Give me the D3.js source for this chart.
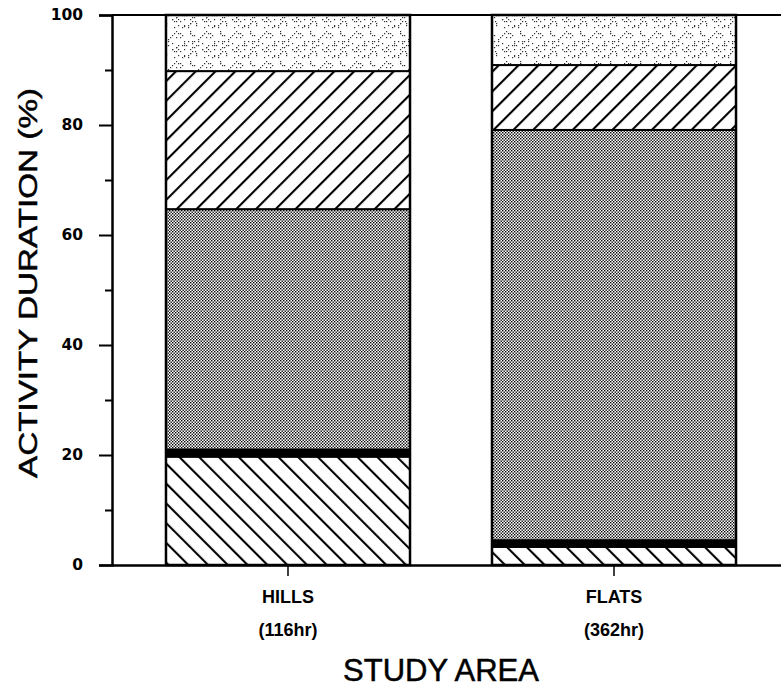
<!DOCTYPE html>
<html>
<head>
<meta charset="utf-8">
<script src="https://cdn.jsdelivr.net/npm/d3@7"></script>
<style>
  body { margin: 0; background: #fff; }
  svg { display: block; overflow: hidden; }
  text { font-family: "Liberation Sans", Arial, sans-serif; fill: #000; }
</style>
</head>
<body>
<div class="chart"></div>
<script>
var categories = ['HILLS', 'FLATS'];
var hours = ['(116hr)', '(362hr)'];

// stacked from the bottom up, % of activity time
var hatchBack = [19.7, 3.3];
var solidBand = [1.3, 1.2];
var denseDots = [43.7, 74.6];
var hatchFwd = [25.1, 11.8];
var lightDots = [10.2, 9.1];

var yTicks = [0, 20, 40, 60, 80, 100];
var yMinorTicks = [10, 30, 50, 70, 90];

var seriesKeys = ['hatchBack', 'solidBand', 'denseDots', 'hatchFwd', 'lightDots'];
var seriesValues = [hatchBack, solidBand, denseDots, hatchFwd, lightDots];
var seriesFill = ['url(#hatch-back)', '#000', 'url(#dense)', 'url(#hatch-fwd)', 'url(#light)'];

var table = categories.map(function(c, i) {
  var row = { name: c };
  seriesKeys.forEach(function(k, j) { row[k] = seriesValues[j][i]; });
  return row;
});

var margin = { top: 15, right: 0, bottom: 125, left: 112 };
var fullWidth = 781;
var fullHeight = 690;
var width = 678;
var height = fullHeight - margin.top - margin.bottom;

var root = d3.select('.chart')
  .append('svg')
  .attr('width', fullWidth)
  .attr('height', fullHeight);

var defs = root.append('defs');

// diagonal hatches
[['hatch-fwd', 45], ['hatch-back', -45]].forEach(function(p) {
  var pat = defs.append('pattern')
    .attr('id', p[0])
    .attr('patternUnits', 'userSpaceOnUse')
    .attr('width', 14)
    .attr('height', 14)
    .attr('patternTransform', 'rotate(' + p[1] + ')');
  pat.append('rect').attr('width', 14).attr('height', 14).attr('fill', '#fff');
  pat.append('line')
    .attr('x1', 1).attr('y1', -1).attr('x2', 1).attr('y2', 15)
    .attr('stroke', '#000').attr('stroke-width', 2.2);
});

// dense halftone
var dense = defs.append('pattern')
  .attr('id', 'dense')
  .attr('patternUnits', 'userSpaceOnUse')
  .attr('width', 3)
  .attr('height', 3);
dense.append('rect').attr('width', 3).attr('height', 3).attr('fill', '#fff');
dense.append('rect').attr('x', 0).attr('y', 0).attr('width', 1.4).attr('height', 1.4).attr('fill', '#000');
dense.append('rect').attr('x', 1.5).attr('y', 1.5).attr('width', 1.4).attr('height', 1.4).attr('fill', '#000');

// sparse speckle, fixed scatter via a small LCG
var light = defs.append('pattern')
  .attr('id', 'light')
  .attr('patternUnits', 'userSpaceOnUse')
  .attr('width', 30)
  .attr('height', 30);
light.append('rect').attr('width', 30).attr('height', 30).attr('fill', '#fff');
var seed = 7;
for (var k = 0; k < 55; k++) {
  seed = (seed * 1103515245 + 12345) % 2147483648;
  var px = seed % 30;
  seed = (seed * 1103515245 + 12345) % 2147483648;
  var py = seed % 30;
  light.append('rect').attr('x', px).attr('y', py).attr('width', 1.2).attr('height', 1.2).attr('fill', '#333');
}

var svg = root.append('g')
  .attr('transform', 'translate(' + margin.left + ',' + margin.top + ')');

var yScale = d3.scaleLinear()
  .domain([0, 100])
  .range([height, 0]);

var xScale = d3.scaleBand()
  .domain(categories)
  .range([0, width])
  .paddingInner(0.2515)
  .paddingOuter(0.1656);

var stack = d3.stack().keys(seriesKeys);
var layers = stack(table);

// bars
var layer = svg.selectAll('g.layer')
  .data(layers)
  .enter()
  .append('g')
  .attr('class', 'layer')
  .attr('fill', (d, i) => seriesFill[i]);

layer.selectAll('rect')
  .data(d => d)
  .enter()
  .append('rect')
  .attr('x', d => xScale(d.data.name))
  .attr('y', d => yScale(d[1]))
  .attr('width', xScale.bandwidth())
  .attr('height', d => yScale(d[0]) - yScale(d[1]))
  .attr('stroke', '#000')
  .attr('stroke-width', 2);

svg.selectAll('rect.outline')
  .data(categories)
  .enter()
  .append('rect')
  .attr('class', 'outline')
  .attr('x', d => xScale(d))
  .attr('y', yScale(100))
  .attr('width', xScale.bandwidth())
  .attr('height', yScale(0) - yScale(100))
  .attr('fill', 'none')
  .attr('stroke', '#000')
  .attr('stroke-width', 2.5);

// frame: top line
svg.append('line')
  .attr('x1', 0).attr('x2', width)
  .attr('y1', yScale(100)).attr('y2', yScale(100))
  .attr('stroke', '#000').attr('stroke-width', 2);

var yAxis = d3.axisLeft(yScale)
  .tickValues(yTicks)
  .tickSize(13)
  .tickPadding(16)
  .tickFormat(d3.format('d'));

var gy = svg.append('g').call(yAxis);
gy.select('.domain').attr('stroke-width', 2.5);
gy.selectAll('.tick line').attr('stroke-width', 2);
gy.selectAll('.tick text')
  .style('font-family', '"DejaVu Sans", sans-serif')
  .style('font-size', '15.5px')
  .style('font-weight', 'bold');

var gyMinor = svg.append('g')
  .call(d3.axisLeft(yScale).tickValues(yMinorTicks).tickSize(7).tickFormat(''));
gyMinor.select('.domain').remove();
gyMinor.selectAll('.tick line').attr('stroke-width', 2);

var xAxis = d3.axisBottom(xScale)
  .tickSize(11)
  .tickSizeOuter(0)
  .tickFormat('');

var gx = svg.append('g')
  .attr('transform', `translate(0, ${height})`)
  .call(xAxis);
gx.select('.domain').attr('stroke-width', 2.5);
gx.selectAll('.tick line').attr('stroke-width', 1.5);

gx.selectAll('.tick')
  .append('text')
  .attr('y', 38)
  .attr('text-anchor', 'middle')
  .style('font-size', '18px')
  .style('font-weight', 'bold')
  .text(d => d);

gx.selectAll('.tick')
  .append('text')
  .attr('y', 71)
  .attr('text-anchor', 'middle')
  .style('font-size', '18px')
  .style('font-weight', 'bold')
  .text((d, i) => hours[i]);

// axis titles
root.append('text')
  .attr('x', 441)
  .attr('y', 681)
  .attr('text-anchor', 'middle')
  .attr('stroke', '#000')
  .attr('stroke-width', 0.5)
  .style('font-size', '31px')
  .text('STUDY AREA');

root.append('text')
  .attr('transform', 'translate(37, 283) rotate(-90)')
  .attr('text-anchor', 'middle')
  .attr('textLength', 390)
  .attr('lengthAdjust', 'spacingAndGlyphs')
  .attr('stroke', '#000')
  .attr('stroke-width', 0.5)
  .style('font-size', '26px')
  .text('ACTIVITY DURATION (%)');
</script>
</body>
</html>
